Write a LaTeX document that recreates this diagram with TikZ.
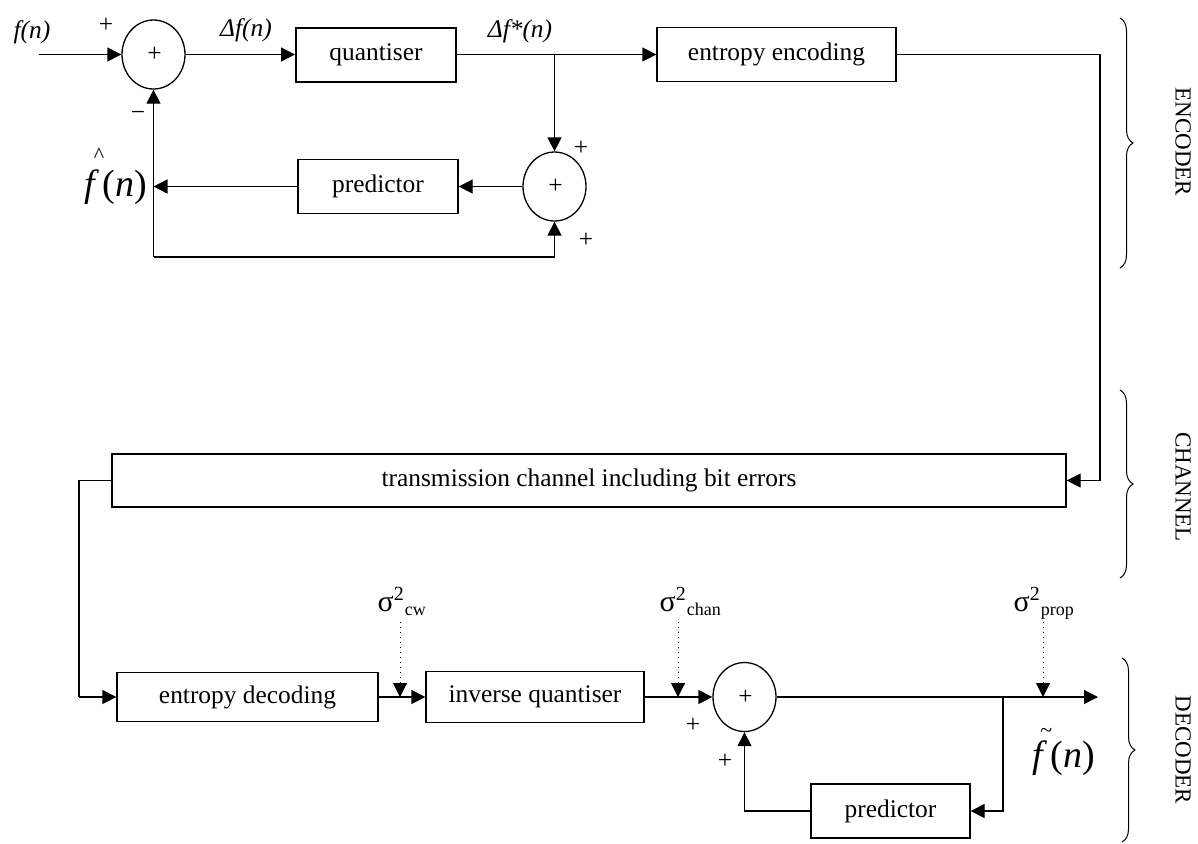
\documentclass[tikz,border=0pt]{standalone}
\usepackage{fontspec}
\setmainfont{Liberation Serif}
\usetikzlibrary{arrows.meta,shapes.geometric,decorations.pathreplacing}
\begin{document}
\begin{tikzpicture}[x=0.5pt,y=-0.5pt,
  font=\fontsize{12.7}{15}\selectfont,
  line width=0.65pt,
  blk/.style={draw,rectangle,minimum height=27pt,inner sep=0pt},
  sum/.style={draw,ellipse,minimum width=31.5pt,minimum height=34.5pt,inner sep=0pt},
  arr/.style={-{Triangle[length=7pt,width=7pt]}},
  noise/.style={dotted,line width=0.5pt,-{Triangle[length=7pt,width=7pt]}},
  lbl/.style={inner sep=0pt},
  sig/.style={inner sep=0pt,anchor=base west,font=\fontsize{15}{17}\selectfont},
  big/.style={inner sep=0pt,font=\fontsize{19}{22}\selectfont},
  side/.style={rotate=-90,inner sep=0pt,font=\fontsize{11.5}{13}\selectfont},
  brc/.style={decorate,decoration={brace,amplitude=6.5pt},line width=0.5pt}]
\useasboundingbox (0,0) rectangle (1198,843);
\newcommand{\sumsign}{\raisebox{-3.5pt}{\kern1pt+}}
\newcommand{\noisevar}[1]{σ\textsuperscript{\fontsize{10}{11}\selectfont 2}\textsubscript{\fontsize{9}{10}\selectfont #1}}

% ---------------- encoder ----------------
\coordinate (in) at (39,54.5);
\node[sum] (s1) at (153.5,54.5) {\sumsign};
\node[blk,minimum width=80pt,line width=1pt] (quant) at (376,54.5) {quantiser};
\node[blk,minimum width=119.5pt] (enc) at (776.5,54.5) {entropy encoding};
\node[sum] (s2) at (554.5,186.5) {\sumsign};
\node[blk,minimum width=80pt] (pred1) at (378,186.5) {predictor};
\coordinate (j1) at (554.5,54.5);
\coordinate (fb1) at (153.5,257);
\coordinate (fb2) at (554.5,257);

\draw[arr] (in) -- (s1.west);
\draw[arr] (s1.east) -- (quant.west);
\draw[arr] (quant.east) -- (enc.west);
\draw[arr] (j1) -- (s2.north);
\draw[arr] (s2.west) -- (pred1.east);
\draw[arr] (pred1.west) -- (pred1.west -| s1.south);
\draw[arr] (fb1) -- (s1.south);
\draw[arr] (fb1) -- (fb2) -- (s2.south);

\node[lbl] (lfn) at (32,32) {\itshape f(n)};
\node[lbl] (lp1) at (106,25) {+};
\node[lbl] (lm1) at (138,116) {−};
\node[lbl] (ldf) at (246,30) {\itshape Δf(n)};
\node[lbl] (ldq) at (520,31) {\itshape Δf*(n)};
\node[lbl] (lp2) at (581,148) {+};
\node[lbl] (lp3) at (586,240) {+};
\node[big] (lhat) at (116,176)
  {\makebox[0pt][l]{\raisebox{0.9em}{\kern0.24em\fontsize{11}{12}\selectfont\textasciicircum}}\textit{f}\kern0.08em(\textit{n})};

% ---------------- channel ----------------
\node[blk,minimum width=477pt,minimum height=26.5pt] (chan) at (589,480.5)
  {transmission channel including bit errors};
\coordinate (r1) at (1100,54.5);
\coordinate (r2) at (1100,480.5);
\coordinate (l1) at (79,480.5);
\coordinate (l2) at (79,697);
\draw[arr] (enc.east) -- (r1) -- (r2) -- (chan.east);
\draw (chan.west) -- (l1) -- (l2);

% ---------------- decoder ----------------
\node[blk,minimum width=130.5pt,minimum height=24.5pt] (entdec) at (247.5,697) {entropy decoding};
\node[blk,minimum width=109pt,minimum height=25.5pt] (iq) at (535,697) {inverse quantiser};
\node[sum] (s3) at (744.5,697) {\sumsign};
\node[blk,minimum width=79.5pt] (pred2) at (890.5,811) {predictor};
\coordinate (out) at (1098,697);
\coordinate (j2) at (1003,697);
\coordinate (j3) at (1003,811);
\coordinate (b1) at (744.5,811);

\draw[arr] (l2) -- (entdec.west);
\draw[arr] (entdec.east) -- (iq.west);
\draw[arr] (iq.east) -- (s3.west);
\draw[arr] (s3.east) -- (out);
\draw[arr] (j2) -- (j3) -- (pred2.east);
\draw[arr] (pred2.west) -- (b1) -- (s3.south);

\coordinate (n1) at (400,622);
\coordinate (n2) at (678,622);
\coordinate (n3) at (1043,622);
\draw[noise] (n1) -- (n1 |- entdec.east);
\draw[noise] (n2) -- (n2 |- iq.east);
\draw[noise] (n3) -- (n3 |- out);

\node[sig] (scw) at (377,611) {\noisevar{cw}};
\node[sig] (sch) at (659,611) {\noisevar{chan}};
\node[sig] (spr) at (1013,611) {\noisevar{prop}};
\node[lbl] (lp4) at (693,725) {+};
\node[lbl] (lp5) at (725,761) {+};
\node[big] (ltil) at (1064,752)
  {\makebox[0pt][l]{\raisebox{0.8em}{\kern0.2em\fontsize{11}{12}\selectfont\textasciitilde}}\textit{f}\kern0.08em(\textit{n})};

% ---------------- section braces ----------------
\draw[brc] (1120,18) -- (1120,268);
\draw[brc] (1120,390) -- (1120,578);
\draw[brc] (1122,658) -- (1122,842);
\node[side] (tenc) at (1183,142) {ENCODER};
\node[side] (tchan) at (1183,487) {CHANNEL};
\node[side] (tdec) at (1183,750) {DECODER};
\end{tikzpicture}
\end{document}
